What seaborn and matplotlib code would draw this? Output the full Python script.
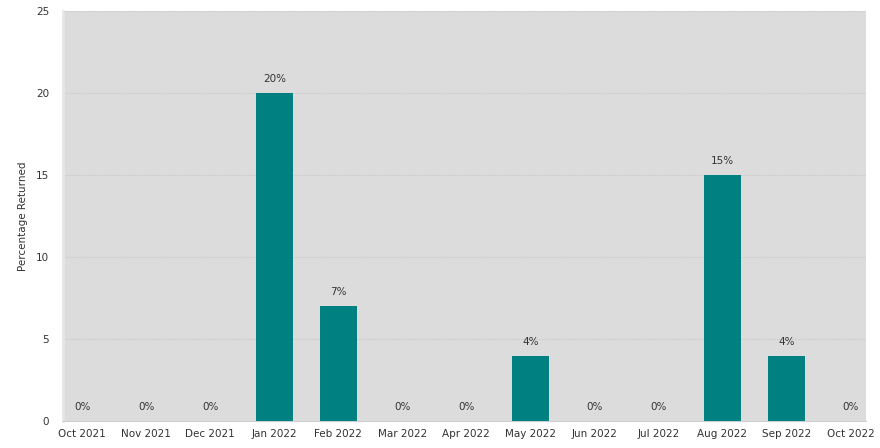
import matplotlib
matplotlib.use("Agg")
import matplotlib.pyplot as plt
import seaborn as sns
import pandas as pd

months = ["Oct 2021", "Nov 2021", "Dec 2021", "Jan 2022", "Feb 2022", "Mar 2022",
          "Apr 2022", "May 2022", "Jun 2022", "Jul 2022", "Aug 2022", "Sep 2022", "Oct 2022"]
returned = [0, 0, 0, 20, 7, 0, 0, 4, 0, 0, 15, 4, 0]
y_ticks = [0, 5, 10, 15, 20, 25]

df = pd.DataFrame({"month": months, "pct": returned})

sns.set_style("white")
plt.rcParams["font.family"] = ["DejaVu Sans"]

fig = plt.figure(figsize=(8.8, 4.48), dpi=100)
ax = fig.add_axes([0.0716, 0.060, 0.913, 0.915])
ax.set_facecolor("#dcdcdc")
ax.patch.set_edgecolor("none")

sns.barplot(data=df, x="month", y="pct", color="#008080", width=0.58,
            saturation=1, linewidth=0, ax=ax, zorder=3)

for i, v in enumerate(returned):
    ax.text(i, v + 0.55, f"{v}%", ha="center", va="bottom", fontsize=7.5, color="#333333", zorder=4)

ax.set_ylim(0, 25)
ax.set_xlim(-0.3, len(months) - 0.75)
ax.set_yticks(y_ticks)
ax.yaxis.grid(True, color="#c8c8c8", linestyle=(0, (1, 1)), linewidth=0.8, zorder=0)
ax.set_axisbelow(True)
ax.tick_params(axis="y", length=9, color="#d0d0d0", labelsize=7.5, labelcolor="#333333", pad=1)
ax.tick_params(axis="x", length=0, labelsize=7.5, labelcolor="#333333", pad=6)
sns.despine(ax=ax, top=True, right=True)
ax.spines["left"].set_color("#e6e6e6")
ax.spines["left"].set_linewidth(2)
ax.spines["bottom"].set_color("#d0d0d0")
ax.spines["bottom"].set_linestyle((0, (1, 1)))
ax.spines["bottom"].set_linewidth(0.8)
ax.set_xlabel("")
ax.set_ylabel("Percentage Returned", fontsize=7.5, color="#333333", labelpad=6)

fig.savefig("out.png", dpi=100)
